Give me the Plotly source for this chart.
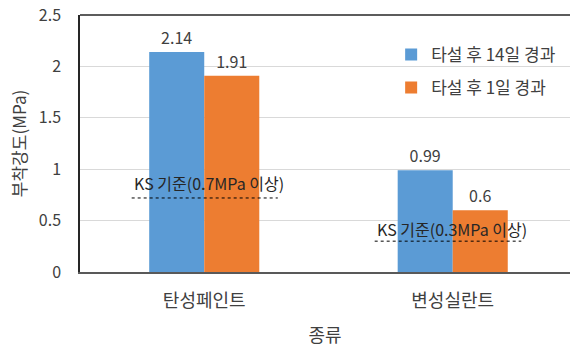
import plotly.graph_objects as go

categories = ["탄성페인트", "변성실란트"]
series_names = ["타설 후 14일 경과", "타설 후 1일 경과"]
values_14d = [2.14, 0.99]
values_1d = [1.91, 0.6]
colors = ["#5B9BD5", "#ED7D31"]

ks_labels = ["KS 기준(0.7MPa 이상)", "KS 기준(0.3MPa 이상)"]
ks_levels = [0.72, 0.30]
ks_x0 = [-0.292, 0.686]
ks_x1 = [0.296, 1.276]
ks_text_y = [0.87, 0.42]

FONT = "Noto Sans CJK KR"
TXT = "#404040"

fig = go.Figure()
for name, vals, col, grp in zip(series_names, [values_14d, values_1d], colors, ["a", "b"]):
    fig.add_trace(go.Bar(
        x=[0, 1], y=vals, name=name, marker=dict(color=col, line=dict(width=0)),
        text=[f"{v:g}" for v in vals], textposition="outside",
        textfont=dict(family=FONT, size=16, color=TXT), cliponaxis=False,
        legendgroup=grp,
    ))

for lbl, lvl, a, b, ty in zip(ks_labels, ks_levels, ks_x0, ks_x1, ks_text_y):
    fig.add_shape(type="line", xref="x", yref="y", x0=a, x1=b, y0=lvl, y1=lvl,
                  line=dict(color="black", width=1, dash="3px,3px"))
    fig.add_annotation(xref="x", yref="y", x=a, y=ty, xanchor="left", yanchor="middle",
                       text=lbl, showarrow=False, font=dict(family=FONT, size=16, color="#262626"))

# top border of the plot area
fig.add_shape(type="line", xref="paper", yref="paper", x0=0, x1=1, y0=1, y1=1,
              line=dict(color="#262626", width=1.5))

fig.update_layout(
    width=570, height=351,
    margin=dict(l=80, r=0, t=15, b=79),
    paper_bgcolor="white", plot_bgcolor="white",
    barmode="group", bargap=0.557, bargroupgap=0,
    font=dict(family=FONT, color=TXT, size=16),
    showlegend=True,
    legend=dict(x=0.635, y=0.915, xanchor="left", yanchor="top",
                font=dict(family=FONT, size=17, color=TXT),
                tracegroupgap=8, itemwidth=30, bgcolor="rgba(0,0,0,0)"),
    xaxis=dict(
        range=[-0.5, 1.472], tickvals=[0, 1], ticktext=categories,
        showgrid=False, zeroline=False, showline=True, linecolor="#595959", linewidth=1.5,
        ticks="", ticklabelstandoff=12, tickfont=dict(family=FONT, size=18, color=TXT),
        title=dict(text="종류", font=dict(family=FONT, size=18, color=TXT), standoff=18),
    ),
    yaxis=dict(
        range=[0, 2.5], tickvals=[0, 0.5, 1, 1.5, 2, 2.5],
        ticktext=["0", "0.5", "1", "1.5", "2", "2.5"],
        showgrid=True, gridcolor="#D9D9D9", gridwidth=1, zeroline=False,
        showline=True, linecolor="#262626", linewidth=1.5,
        ticks="", ticklabelstandoff=14, tickfont=dict(family=FONT, size=16, color=TXT),
        title=dict(text="부착강도(MPa)", font=dict(family=FONT, size=17, color=TXT), standoff=8),
    ),
)

fig.write_html("out.html")
